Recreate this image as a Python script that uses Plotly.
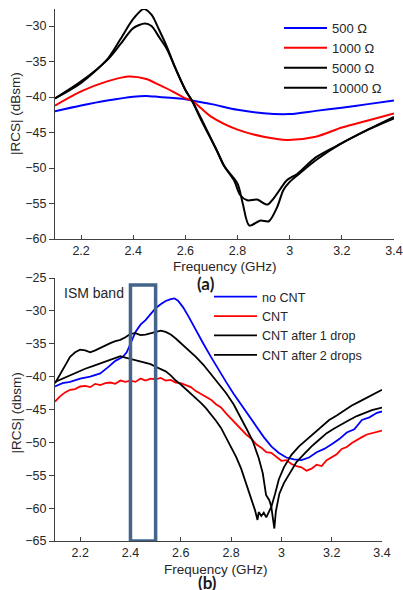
import plotly.graph_objects as go

# ---------------- (a) data ----------------
f_500 = [2.10, 2.20, 2.30, 2.40, 2.45, 2.50, 2.60, 2.625, 2.70, 2.80, 2.90, 3.00, 3.10, 3.20, 3.30, 3.40]
rcs_500 = [-42.0, -41.2, -40.5, -39.95, -39.85, -40.0, -40.3, -40.5, -41.0, -41.8, -42.3, -42.4, -41.95, -41.5, -41.0, -40.5]

f_1000 = [2.10, 2.20, 2.30, 2.38, 2.45, 2.50, 2.55, 2.60, 2.625, 2.70, 2.80, 2.90, 2.99, 3.10, 3.20, 3.30, 3.40]
rcs_1000 = [-41.2, -39.2, -37.8, -37.1, -37.45, -38.3, -39.2, -40.2, -40.5, -42.8, -44.6, -45.6, -46.05, -45.6, -44.3, -43.3, -42.3]

f_5000 = [2.10, 2.20, 2.30, 2.35, 2.40, 2.445, 2.47, 2.50, 2.53, 2.56, 2.60, 2.625, 2.66, 2.72, 2.75, 2.786,
          2.81, 2.837, 2.875, 2.914, 2.938, 2.965, 2.99, 3.03, 3.10, 3.20, 3.30, 3.40]
rcs_5000 = [-40.2, -37.8, -34.8, -32.6, -30.3, -29.65, -30.0, -31.6, -33.3, -35.8, -39.0, -40.5, -43.2, -47.5, -49.8, -51.7,
            -53.8, -54.55, -54.45, -55.15, -54.3, -52.9, -51.7, -50.8, -48.5, -46.5, -44.6, -43.0]

f_10000 = [2.10, 2.20, 2.30, 2.35, 2.40, 2.44, 2.47, 2.50, 2.53, 2.56, 2.60, 2.625, 2.66, 2.72, 2.75, 2.80,
           2.82, 2.845, 2.888, 2.92, 2.952, 2.976, 3.00, 3.04, 3.10, 3.20, 3.30, 3.40]
rcs_10000 = [-40.2, -38.0, -34.7, -31.9, -29.0, -27.6, -28.4, -30.6, -33.0, -35.8, -39.0, -40.5, -43.0, -47.5, -49.8, -52.2,
             -55.0, -58.1, -57.4, -57.5, -55.5, -53.1, -51.95, -50.7, -48.9, -46.5, -44.6, -42.8]

# ---------------- (b) data ----------------
f_nocnt = [2.10, 2.13, 2.16, 2.20, 2.24, 2.28, 2.31, 2.34, 2.37, 2.385, 2.40, 2.42, 2.44, 2.46, 2.48, 2.50, 2.52, 2.54,
           2.56, 2.575, 2.59, 2.61, 2.63, 2.66, 2.69, 2.72, 2.75, 2.78, 2.81, 2.84, 2.87, 2.90, 2.93, 2.96, 2.99,
           3.02, 3.05, 3.08, 3.11, 3.14, 3.17, 3.20, 3.23, 3.26, 3.29, 3.32, 3.35, 3.38, 3.40]
rcs_nocnt = [-41.5, -41.0, -40.8, -40.3, -40.0, -39.5, -38.6, -37.6, -37.0, -36.3, -35.0, -33.2, -32.1, -31.4, -30.5, -29.6, -29.0, -28.5,
             -28.2, -28.1, -28.5, -29.5, -30.8, -33.0, -35.0, -37.0, -39.0, -40.8, -42.6, -44.3, -45.9, -47.5, -49.2, -50.6, -51.6,
             -52.3, -52.6, -52.7, -52.3, -51.5, -51.0, -50.3, -49.5, -48.5, -48.0, -46.6, -46.2, -45.5, -45.3]

f_cnt = [2.10, 2.12, 2.14, 2.16, 2.18, 2.20, 2.22, 2.24, 2.26, 2.28, 2.30, 2.32, 2.34, 2.36, 2.38, 2.40, 2.42, 2.44, 2.46,
         2.48, 2.50, 2.52, 2.54, 2.56, 2.58, 2.60, 2.62, 2.64, 2.66, 2.68, 2.70, 2.72, 2.74, 2.76, 2.78, 2.80, 2.82, 2.84,
         2.86, 2.88, 2.90, 2.92, 2.94, 2.96, 2.98, 3.00, 3.02, 3.04, 3.06, 3.08, 3.10, 3.12, 3.14, 3.16, 3.18, 3.20, 3.22,
         3.24, 3.26, 3.28, 3.30, 3.32, 3.34, 3.36, 3.38, 3.40]
rcs_cnt = [-43.8, -43.0, -42.4, -42.0, -41.9, -41.5, -41.4, -41.6, -41.1, -41.3, -41.0, -40.9, -41.1, -40.6, -40.8, -40.6, -40.8, -40.3, -40.6,
           -40.3, -40.4, -40.2, -40.6, -40.5, -40.9, -41.0, -41.3, -41.6, -42.2, -42.6, -43.1, -43.5, -44.2, -44.7, -45.6, -46.4, -47.3, -48.0,
           -48.8, -49.4, -50.3, -50.8, -51.5, -51.6, -52.2, -52.8, -52.7, -53.3, -53.6, -53.8, -54.3, -54.0, -53.4, -53.6, -52.7, -52.2, -51.8,
           -51.0, -50.7, -50.1, -49.6, -49.2, -48.8, -48.6, -48.3, -48.2]

f_drop1 = [2.10, 2.115, 2.13, 2.145, 2.16, 2.18, 2.20, 2.22, 2.24, 2.26, 2.28, 2.30, 2.32, 2.34, 2.36, 2.38, 2.40, 2.42,
           2.44, 2.46, 2.48, 2.50, 2.52, 2.54, 2.56, 2.58, 2.60, 2.63, 2.66, 2.69, 2.72, 2.75, 2.78, 2.81, 2.84, 2.865,
           2.886, 2.91, 2.926, 2.939, 2.952, 2.96, 2.966, 2.972, 2.978, 2.992, 3.01, 3.032, 3.06, 3.09, 3.12, 3.15,
           3.18, 3.21, 3.24, 3.27, 3.30, 3.33, 3.36, 3.40]
rcs_drop1 = [-41.0, -40.0, -38.8, -37.8, -37.0, -36.3, -35.9, -36.0, -36.3, -36.0, -35.6, -35.3, -34.9, -34.6, -34.4, -34.0, -33.5, -33.4,
             -33.7, -33.6, -33.4, -33.2, -33.0, -33.2, -33.6, -34.2, -34.9, -35.8, -37.0, -38.2, -39.6, -41.0, -42.5, -44.2, -46.3, -48.2,
             -49.8, -52.4, -54.7, -58.0, -58.8, -59.8, -61.5, -63.1, -60.5, -57.8, -56.2, -54.7, -53.0, -51.8, -50.6, -49.6,
             -48.6, -47.9, -47.2, -46.6, -46.0, -45.5, -45.1, -44.7]

f_drop2 = [2.10, 2.13, 2.16, 2.19, 2.22, 2.25, 2.28, 2.31, 2.34, 2.36, 2.38, 2.40, 2.42, 2.44, 2.46, 2.48, 2.50, 2.52,
           2.54, 2.56, 2.58, 2.60, 2.62, 2.64, 2.66, 2.68, 2.70, 2.72, 2.74, 2.76, 2.78, 2.80, 2.82, 2.84, 2.86, 2.88,
           2.895, 2.905, 2.91, 2.92, 2.93, 2.94, 2.95, 2.96, 2.975, 2.99, 3.01, 3.04, 3.07, 3.10, 3.13, 3.16, 3.19,
           3.22, 3.25, 3.28, 3.31, 3.34, 3.37, 3.40]
rcs_drop2 = [-40.8, -40.3, -39.7, -39.3, -38.8, -38.4, -38.0, -37.6, -37.1, -36.9, -37.1, -37.3, -37.4, -37.6, -37.9, -38.1, -38.5, -38.9,
             -39.2, -39.8, -40.6, -41.2, -41.9, -42.6, -43.2, -44.0, -44.8, -45.7, -46.7, -47.8, -49.2, -50.6, -52.2, -54.0, -56.2, -58.5,
             -60.3, -61.8, -60.6, -61.2, -60.7, -61.4, -60.5, -59.8, -57.8, -55.6, -53.8, -51.9, -50.6, -49.6, -48.5, -47.6, -46.6,
             -45.9, -45.1, -44.4, -43.8, -43.2, -42.5, -42.0]

x_tickvals = [2.2, 2.4, 2.6, 2.8, 3.0, 3.2, 3.4]
x_ticktext = ["2.2", "2.4", "2.6", "2.8", "3", "3.2", "3.4"]
ya_tickvals = [-60, -55, -50, -45, -40, -35, -30]
yb_tickvals = [-65, -60, -55, -50, -45, -40, -35, -30, -25]
ism_band = [2.4, 2.5]
ism_top = -26.05

W, H = 403, 590
FONT = "Liberation Sans, Arial, sans-serif"
TXT = "#262626"
AX = "#404040"

fig = go.Figure()

top_series = [
    ("500 Ω", f_500, rcs_500, "#0000ff"),
    ("1000 Ω", f_1000, rcs_1000, "#ff0000"),
    ("5000 Ω", f_5000, rcs_5000, "#000000"),
    ("10000 Ω", f_10000, rcs_10000, "#000000"),
]
for name, xs, ys, c in top_series:
    fig.add_trace(go.Scatter(x=xs, y=ys, name=name, mode="lines",
                             line=dict(color=c, width=2, shape="spline", smoothing=0.8),
                             xaxis="x", yaxis="y", legend="legend"))

bot_series = [
    ("no CNT", f_nocnt, rcs_nocnt, "#0000ff"),
    ("CNT", f_cnt, rcs_cnt, "#ff0000"),
    ("CNT after 1 drop", f_drop1, rcs_drop1, "#000000"),
    ("CNT after 2 drops", f_drop2, rcs_drop2, "#000000"),
]
for name, xs, ys, c in bot_series:
    fig.add_trace(go.Scatter(x=xs, y=ys, name=name, mode="lines",
                             line=dict(color=c, width=1.8),
                             xaxis="x2", yaxis="y2", legend="legend2"))

def px_x(p):
    return p / W

def px_y(p):
    return 1 - p / H

axis_common = dict(showgrid=False, zeroline=False, showline=True, linecolor=AX, linewidth=1,
                   tickcolor=AX, tickfont=dict(family=FONT, size=12.5, color=TXT), mirror=False,
                   ticklabeloverflow="allow", automargin=False)

fig.update_layout(
    width=W, height=H,
    margin=dict(l=0, r=0, t=0, b=0, autoexpand=False),
    paper_bgcolor="white", plot_bgcolor="white",
    font=dict(family=FONT, color=TXT),
    hovermode=False,
    xaxis=dict(domain=[px_x(55), px_x(394)], anchor="y", range=[2.1, 3.4],
               tickvals=x_tickvals, ticktext=x_ticktext, ticks="inside", ticklen=4, **axis_common),
    yaxis=dict(domain=[px_y(239), px_y(9)], anchor="x", range=[-60, -27.6],
               tickvals=ya_tickvals, ticks="outside", ticklen=5, **axis_common),
    xaxis2=dict(domain=[px_x(55), px_x(382)], anchor="y2", range=[2.1, 3.4],
                tickvals=x_tickvals, ticktext=x_ticktext, ticks="inside", ticklen=4, **axis_common),
    yaxis2=dict(domain=[px_y(541), px_y(278)], anchor="x2", range=[-65, -25],
                tickvals=yb_tickvals, ticks="outside", ticklen=5, **axis_common),
    legend=dict(x=px_x(279), y=px_y(13), xanchor="left", yanchor="top",
                font=dict(family=FONT, size=13, color=TXT), bgcolor="rgba(0,0,0,0)",
                itemwidth=43, tracegroupgap=0),
    legend2=dict(x=px_x(209), y=px_y(282), xanchor="left", yanchor="top",
                 font=dict(family=FONT, size=12.6, color=TXT), bgcolor="rgba(0,0,0,0)",
                 itemwidth=43, tracegroupgap=0),
    showlegend=True,
)

# ISM band rectangle
fig.add_shape(type="rect", xref="x2", yref="y2", x0=ism_band[0], x1=ism_band[1], y0=-65, y1=ism_top,
              line=dict(color="#44648c", width=3.5), fillcolor="rgba(0,0,0,0)")

ann = [
    dict(text="Frequency (GHz)", x=px_x(224.5), y=px_y(266), size=13.5, angle=0),
    dict(text="|RCS| (dBsm)", x=px_x(15), y=px_y(114), size=13.5, angle=-90),
    dict(text="Frequency (GHz)", x=px_x(215.5), y=px_y(569), size=13.5, angle=0),
    dict(text="|RCS| (dbsm)", x=px_x(15.5), y=px_y(413), size=13.5, angle=-90),
]
for a in ann:
    fig.add_annotation(text=a["text"], x=a["x"], y=a["y"], xref="paper", yref="paper",
                       xanchor="center", yanchor="middle", showarrow=False, textangle=a["angle"],
                       font=dict(family=FONT, size=a["size"], color=TXT))

fig.add_annotation(text="ISM band", x=px_x(62), y=px_y(293), xref="paper", yref="paper",
                   xanchor="left", yanchor="middle", showarrow=False,
                   font=dict(family=FONT, size=14, color=TXT))
for lab, cx, cy in [("(a)", 206, 283), ("(b)", 207.5, 582)]:
    fig.add_annotation(text="<b>" + lab + "</b>", x=px_x(cx), y=px_y(cy), xref="paper", yref="paper",
                       xanchor="center", yanchor="middle", showarrow=False,
                       font=dict(family="Lato, Open Sans, sans-serif", size=17, color="#1a1a1a"))

fig.write_html("out.html",
               config={"displayModeBar": False, "staticPlot": False},
               post_script="document.body.style.margin='0';document.body.style.padding='0';"
                           "document.documentElement.style.overflow='hidden';")
